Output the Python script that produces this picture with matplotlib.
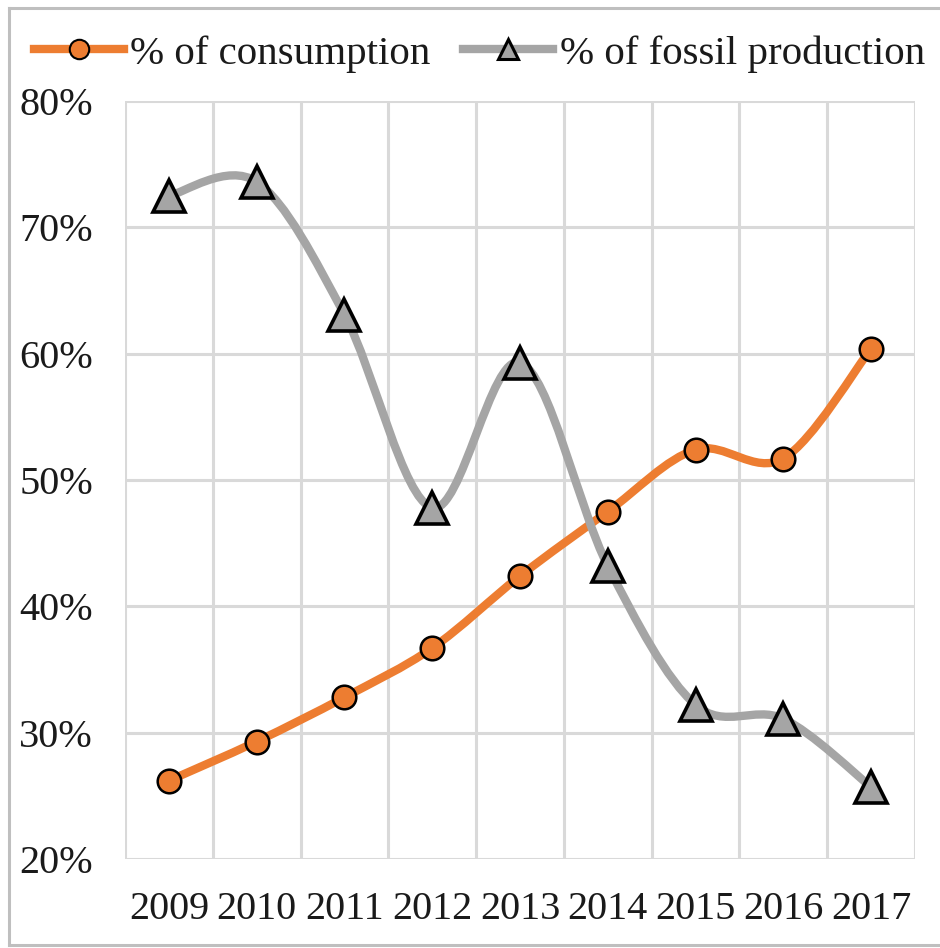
import numpy as np
import matplotlib
matplotlib.use("Agg")
import matplotlib.pyplot as plt
from matplotlib.path import Path
from matplotlib.patches import PathPatch
from matplotlib.lines import Line2D
from matplotlib.ticker import FuncFormatter

years = ["2009", "2010", "2011", "2012", "2013", "2014", "2015", "2016", "2017"]
consumption = [26.2, 29.3, 32.8, 36.7, 42.4, 47.5, 52.4, 51.7, 60.4]
fossil = [72.5, 73.6, 63.1, 47.8, 59.3, 43.2, 32.2, 31.1, 25.7]

ORANGE = "#ED7D31"
GRAY = "#A5A5A5"
GRID = "#D9D9D9"
TEXT = "#1a1a1a"

plt.rcParams["font.family"] = ["Liberation Serif", "DejaVu Serif"]


def smooth_path(xs, ys):
    """Bezier path through the points, Catmull-Rom style (like a spreadsheet's smoothed line)."""
    pts = np.column_stack([xs, ys]).astype(float)
    n = len(pts)
    verts = [pts[0]]
    codes = [Path.MOVETO]
    for i in range(n - 1):
        p0 = pts[i - 1] if i > 0 else pts[i]
        p1 = pts[i]
        p2 = pts[i + 1]
        p3 = pts[i + 2] if i + 2 < n else pts[i + 1]
        c1 = p1 + (p2 - p0) / 6.0
        c2 = p2 - (p3 - p1) / 6.0
        verts += [c1, c2, p2]
        codes += [Path.CURVE4] * 3
    return Path(verts, codes)


fig = plt.figure(figsize=(9.4, 9.48), dpi=100)
ax = fig.add_axes([125 / 940, 89 / 948, 790 / 940, 758 / 948])

x = np.arange(len(years))

for vals, color, marker, ms in [(consumption, ORANGE, "o", 17),
                                (fossil, GRAY, "^", 23)]:
    ax.add_patch(PathPatch(smooth_path(x, vals), facecolor="none",
                           edgecolor=color, lw=6, capstyle="round", zorder=3))
    ax.plot(x, vals, linestyle="none", marker=marker, markersize=ms,
            markerfacecolor=color, markeredgecolor="black",
            markeredgewidth=1.8 if marker == "o" else 2.6, zorder=4)

ax.set_xlim(-0.5, len(years) - 0.5)
ax.set_ylim(20, 80)
ax.set_yticks(np.arange(20, 81, 10))
ax.yaxis.set_major_formatter(FuncFormatter(lambda v, _: f"{v:.0f}%"))
ax.set_xticks(x, labels=years)
ax.set_xticks(np.arange(-0.5, len(years), 1), minor=True)

ax.grid(axis="y", which="major", color=GRID, lw=2.2)
ax.grid(axis="x", which="minor", color=GRID, lw=2.2)
ax.set_axisbelow(True)
for s in ax.spines.values():
    s.set_visible(False)

ax.tick_params(axis="both", which="both", length=0, labelsize=29, colors=TEXT)
ax.tick_params(axis="y", pad=23)
ax.tick_params(axis="x", pad=23)

# legend across the top
handles = [
    Line2D([], [], color=ORANGE, lw=6, marker="o", markersize=14,
           markerfacecolor=ORANGE, markeredgecolor="black", markeredgewidth=1.5),
    Line2D([], [], color=GRAY, lw=6, marker="^", markersize=14,
           markerfacecolor=GRAY, markeredgecolor="black", markeredgewidth=2.2),
]
fig.legend(handles, ["% of consumption", "% of fossil production"],
           loc="center", bbox_to_anchor=(0.51, 1 - 54 / 948), ncol=2,
           frameon=False, fontsize=29.5, handlelength=2.2, handletextpad=0.15,
           columnspacing=0.8, labelcolor=TEXT)

# chart area border
bc = "#BFBFBF"
fig.add_artist(Line2D([9 / 940, 9 / 940], [3 / 948, 1 - 8 / 948], color=bc, lw=2.2,
                      transform=fig.transFigure))
fig.add_artist(Line2D([9 / 940, 1], [1 - 8 / 948, 1 - 8 / 948], color=bc, lw=2.2,
                      transform=fig.transFigure))
fig.add_artist(Line2D([9 / 940, 1], [3 / 948, 3 / 948], color=bc, lw=2.2,
                      transform=fig.transFigure))

fig.savefig("out.png", dpi=100)
